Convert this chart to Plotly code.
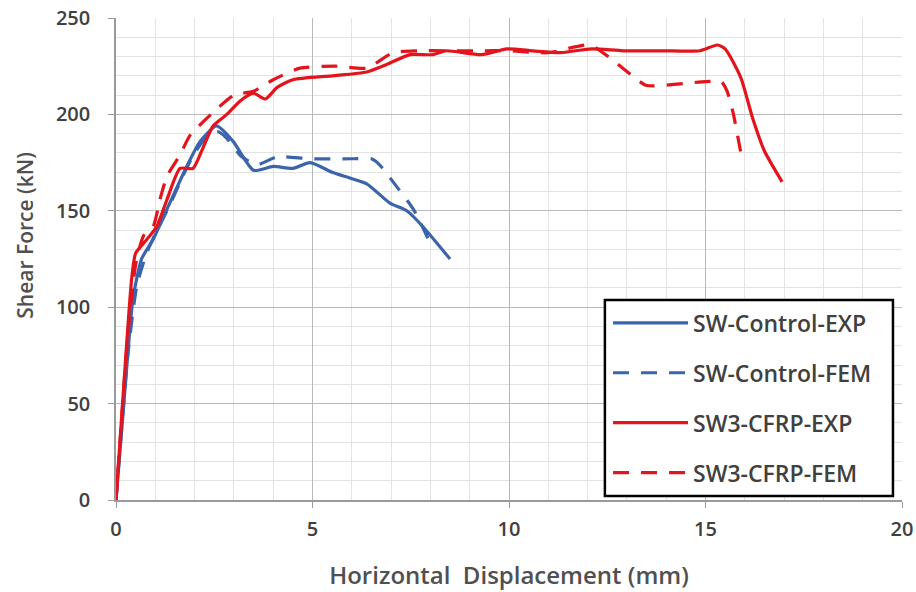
import plotly.graph_objects as go

# SW-Control-EXP
ctrl_exp_x = [0, 0.2, 0.43, 0.65, 0.94, 1.3, 1.8, 2.14, 2.56, 2.98, 3.5, 4.0, 4.5, 4.94, 5.5, 5.95, 6.38, 6.97, 7.4, 7.8, 8.5]
ctrl_exp_y = [0, 50, 104, 125, 135, 151, 173, 186, 194, 186, 171, 173, 172, 175, 170, 167, 164, 154, 150, 142, 125]

# SW-Control-FEM
ctrl_fem_x = [0, 0.3, 0.53, 0.78, 1.0, 1.37, 1.7, 2.0, 2.3, 2.6, 2.8, 3.2, 3.6, 4.1, 4.94, 6.0, 6.5, 6.7, 7.05, 7.56, 8.0]
ctrl_fem_y = [0, 75, 111, 128, 138, 153, 168, 180, 188, 191, 188, 178, 174, 178, 177, 177, 177, 174, 165, 151, 133]

# SW3-CFRP-EXP
cfrp_exp_x = [0, 0.2, 0.4, 0.5, 0.78, 1.04, 1.3, 1.63, 1.96, 2.2, 2.47, 2.82, 3.16, 3.5, 3.8, 4.1, 4.5, 5.5, 6.38, 6.9, 7.48, 8.07, 8.4, 9.3, 9.95, 10.6, 11.3, 12.1, 12.9, 13.9, 14.86, 15.3, 15.5, 15.9, 16.2, 16.5, 16.95]
cfrp_exp_y = [0, 60, 115, 128, 135, 142, 156, 172, 172, 182, 194, 200, 207, 211, 208, 214, 218, 220, 222, 226, 231, 231, 233, 231, 234, 233, 232, 234, 233, 233, 233, 236, 234, 219, 198, 181, 165]

# SW3-CFRP-FEM
cfrp_fem_x = [0, 0.3, 0.5, 0.7, 0.95, 1.12, 1.3, 1.63, 1.88, 2.47, 3.0, 3.5, 4.0, 4.68, 5.6, 6.38, 7.05, 7.7, 8.4, 9.2, 10.0, 11.0, 12.06, 12.65, 13.2, 13.5, 15.0, 15.4, 15.55, 15.7, 15.9]
cfrp_fem_y = [0, 85, 122, 137, 142, 156, 168, 179, 189, 201, 210, 212, 218, 224, 225, 224, 232, 233, 233, 233, 233, 232, 236, 228, 219, 215, 217, 217, 212, 201, 180]

x_ticks = [0, 5, 10, 15, 20]
y_ticks = [0, 50, 100, 150, 200, 250]

x_title = "Horizontal  Displacement (mm)"
y_title = "Shear Force (kN)"

BLUE = "#3b64ad"
RED = "#e3141c"
DASH = "16px,12px"

fig = go.Figure()
series = [
    ("SW-Control-EXP", ctrl_exp_x, ctrl_exp_y, BLUE, "solid"),
    ("SW-Control-FEM", ctrl_fem_x, ctrl_fem_y, BLUE, DASH),
    ("SW3-CFRP-EXP", cfrp_exp_x, cfrp_exp_y, RED, "solid"),
    ("SW3-CFRP-FEM", cfrp_fem_x, cfrp_fem_y, RED, DASH),
]
for i, (name, xs, ys, col, dash) in enumerate(series):
    fig.add_trace(go.Scatter(
        x=xs, y=ys, name=name, mode="lines", legendgroup=f"g{i}",
        line=dict(color=col, width=3.2, dash=dash, shape="spline", smoothing=0.6),
    ))

font_family = "Open Sans, Lato, sans-serif"
fig.update_layout(
    width=916, height=592,
    margin=dict(l=116, r=14, t=18, b=92),
    plot_bgcolor="white", paper_bgcolor="white",
    font=dict(family=font_family, color="#404040", size=18),
    legend=dict(
        x=0.626, y=0.412, xanchor="left", yanchor="top",
        bgcolor="rgba(0,0,0,0)", borderwidth=0,
        font=dict(size=23, color="#404040", weight=600),
        itemwidth=75, tracegroupgap=17,
    ),
    xaxis=dict(
        range=[0, 20], tickvals=x_ticks, ticktext=[str(v) for v in x_ticks],
        showgrid=True, gridcolor="#b9b9b9", gridwidth=1,
        minor=dict(dtick=1, showgrid=True, gridcolor="#e3e3e3", gridwidth=1),
        showline=True, linecolor="#9a9a9a", linewidth=1.5,
        ticks="outside", ticklen=6, tickcolor="#9a9a9a",
        zeroline=False, automargin=False, ticklabelstandoff=4,
        tickfont=dict(size=20, color="#404040", weight=600),
        title=dict(text=x_title, standoff=26,
                   font=dict(size=24, color="#505050", weight=600)),
    ),
    yaxis=dict(
        range=[0, 250], tickvals=y_ticks, ticktext=[str(v) for v in y_ticks],
        showgrid=True, gridcolor="#b9b9b9", gridwidth=1,
        minor=dict(dtick=10, showgrid=True, gridcolor="#e3e3e3", gridwidth=1),
        showline=True, linecolor="#9a9a9a", linewidth=1.5,
        ticks="outside", ticklen=6, tickcolor="#9a9a9a",
        zeroline=False, automargin=False, ticklabelstandoff=14,
        tickfont=dict(size=20, color="#404040", weight=600),
    ),
)
# legend frame
fig.add_shape(
    type="rect", xref="paper", yref="paper",
    x0=0.622, x1=0.9885, y0=0.0083, y1=0.415, layer="above",
    fillcolor="white", line=dict(color="black", width=2.5),
)
fig.add_annotation(
    text=y_title, textangle=-90, xref="paper", yref="paper",
    x=-0.116, y=0.55, xanchor="center", yanchor="middle", showarrow=False,
    font=dict(size=21, color="#505050", weight=600, family=font_family),
)

fig.write_html("out.html")
